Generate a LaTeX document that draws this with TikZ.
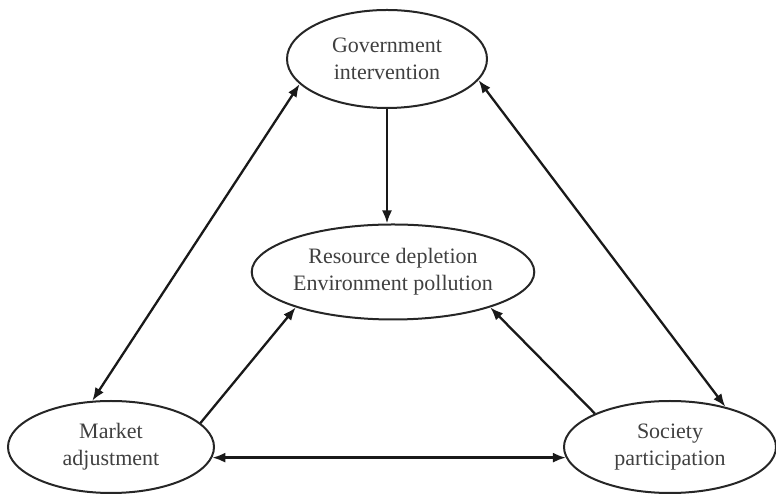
\documentclass[tikz,border=0pt]{standalone}
\usepackage{fontspec}
\setmainfont{Liberation Serif}
\usetikzlibrary{shapes.geometric,arrows.meta}
\tikzset{
  oval/.style={ellipse, draw=black!85, line width=2pt, inner sep=0pt, align=center,
    font=\fontsize{22}{27}\selectfont, text=black!75},
  link/.style={line width=2.3pt, draw=black!90},
  tip/.style={-{Latex[length=13pt,width=10pt]}},
  tips/.style={{Latex[length=13pt,width=10pt]}-{Latex[length=13pt,width=10pt]}}
}
\begin{document}
\begin{tikzpicture}[x=1pt,y=1pt]
\useasboundingbox (0,0) rectangle (776,494);
\clip (0,0) rectangle (776,494);
\node[oval, minimum width=200pt, minimum height=98pt] (gov) at (387,435) {Government\\intervention};
\node[oval, minimum width=270pt, minimum height=95pt] (res) at (393,222) {Resource depletion\\Environment pollution};
\node[oval, minimum width=206pt, minimum height=92pt] (mkt) at (111,47) {Market\\adjustment};
\node[oval, minimum width=212pt, minimum height=92pt] (soc) at (670,47) {Society\\participation};
\coordinate (hl) at (mkt.354);
\coordinate (hr) at (soc.186);

\draw[link,tip] (gov.south) -- (gov.south |- res.north);
\draw[link,tips] (gov.196) -- (mkt.112);
\draw[link,tips] (gov.347) -- (soc.36);
\draw[link,tip] (mkt.15) -- (res.200);
\draw[link,tip] (soc.156) -- (res.340);
\draw[link,tips] (hl) -- (hl -| hr);
\end{tikzpicture}
\end{document}
